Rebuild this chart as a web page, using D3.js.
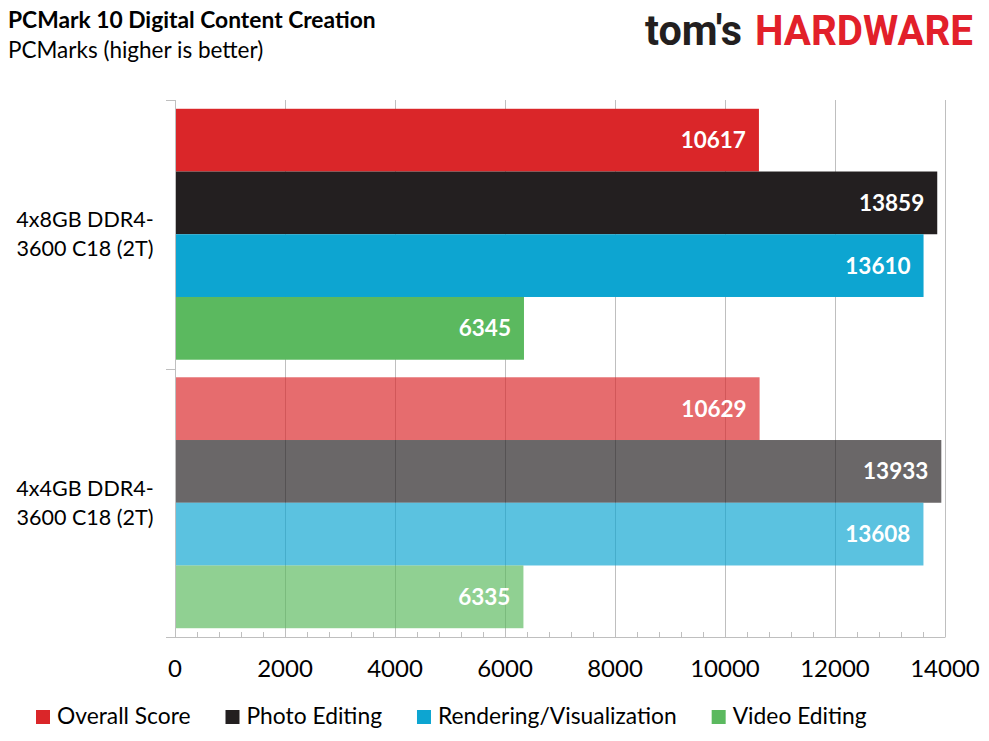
<!DOCTYPE html>
<html>
<head>
<meta charset="utf-8">
<script src="https://cdn.jsdelivr.net/npm/d3@7"></script>
<style>
  body { margin: 0; background: #fff; }
  svg { display: block; }
  text { font-family: Lato, "Open Sans", sans-serif; fill: #000; }
  .title { font-weight: bold; font-size: 22.8px; }
  .subtitle { font-size: 22.5px; }
  .tick-label { font-size: 24px; }
  .cat-label { font-size: 21.5px; }
  .legend-label { font-size: 22.8px; }
  .value-label { font-weight: bold; font-size: 22.5px; fill: #fff; }
  .logo { font-family: Roboto, sans-serif; font-weight: 700; font-size: 42px; }
</style>
</head>
<body>
<div id="chart"></div>
<script>
// chart data
const categories = ["4x8GB DDR4-3600 C18 (2T)", "4x4GB DDR4-3600 C18 (2T)"];
const categoryLines = [["4x8GB DDR4-", "3600 C18 (2T)"], ["4x4GB DDR4-", "3600 C18 (2T)"]];
const series = ["Overall Score", "Photo Editing", "Rendering/Visualization", "Video Editing"];
const values8GB = [10617, 13859, 13610, 6345];
const values4GB = [10629, 13933, 13608, 6335];
const seriesColors = ["#DA2629", "#231F20", "#0DA5D1", "#5BB95F"];
const categoryOpacity = [1, 0.68];
const xTicks = [0, 2000, 4000, 6000, 8000, 10000, 12000, 14000];

const allValues = [values8GB, values4GB];

const width = 989, height = 741;
const margin = {top: 100, right: 44, bottom: 104, left: 175};

const svg = d3.select("#chart").append("svg")
    .attr("width", width)
    .attr("height", height);

// titles
svg.append("text").attr("class", "title")
    .attr("x", 8).attr("y", 28)
    .text("PCMark 10 Digital Content Creation");
svg.append("text").attr("class", "subtitle")
    .attr("x", 8).attr("y", 58)
    .text("PCMarks (higher is better)");

// logo
let logo = svg.append("text").attr("class", "logo").attr("y", 45);
logo.append("tspan").attr("x", 645).attr("fill", "#231F20")
    .attr("textLength", 97).attr("lengthAdjust", "spacingAndGlyphs")
    .text("tom's");
logo.append("tspan").attr("x", 755).attr("fill", "#E2202A")
    .attr("textLength", 218).attr("lengthAdjust", "spacingAndGlyphs")
    .text("HARDWARE");

// scales
let xScale = d3.scaleLinear()
    .domain([0, 14000])
    .range([margin.left, width - margin.right]);

let yGroup = d3.scaleBand()
    .domain(categories)
    .range([margin.top, height - margin.bottom]);

let ySeries = d3.scaleBand()
    .domain(series)
    .range([0, yGroup.bandwidth()])
    .paddingOuter(0.14);

let plotBottom = height - margin.bottom;

// gridlines (behind bars)
svg.append("g")
    .selectAll("line")
    .data(xTicks.slice(1))
    .enter().append("line")
    .attr("x1", d => xScale(d) + 0.5)
    .attr("x2", d => xScale(d) + 0.5)
    .attr("y1", margin.top)
    .attr("y2", plotBottom)
    .attr("stroke", "#BFBFBF")
    .attr("stroke-width", 1);

// bars
categories.forEach(function (cat, ci) {
    let g = svg.append("g")
        .attr("transform", "translate(0," + yGroup(cat) + ")");

    let rows = series.map((s, si) => ({series: s, value: allValues[ci][si], color: seriesColors[si]}));

    g.selectAll("rect")
        .data(rows)
        .enter().append("rect")
        .attr("x", xScale(0))
        .attr("y", d => ySeries(d.series))
        .attr("width", d => xScale(d.value) - xScale(0))
        .attr("height", ySeries.bandwidth())
        .attr("fill", d => d.color)
        .attr("fill-opacity", categoryOpacity[ci]);

    g.selectAll("text.value-label")
        .data(rows)
        .enter().append("text")
        .attr("class", "value-label")
        .attr("x", d => xScale(d.value) - 13)
        .attr("y", d => ySeries(d.series) + ySeries.bandwidth() / 2)
        .attr("dy", "0.36em")
        .attr("text-anchor", "end")
        .text(d => d.value);

    // category label, two lines
    let label = svg.append("text")
        .attr("class", "cat-label")
        .attr("text-anchor", "middle")
        .attr("y", yGroup(cat) + yGroup.bandwidth() / 2 - 7);
    label.selectAll("tspan")
        .data(categoryLines[ci])
        .enter().append("tspan")
        .attr("x", 85)
        .attr("dy", (d, i) => i == 0 ? 0 : 29)
        .text(d => d);
});

// y axis line and ticks
let axisColor = "#BFBFBF";
svg.append("line")
    .attr("x1", xScale(0) + 0.5).attr("x2", xScale(0) + 0.5)
    .attr("y1", margin.top).attr("y2", plotBottom)
    .attr("stroke", axisColor);
svg.append("g")
    .selectAll("line")
    .data(categories.map(c => yGroup(c)))
    .enter().append("line")
    .attr("x1", xScale(0) - 9).attr("x2", xScale(0))
    .attr("y1", d => Math.round(d) + 0.5)
    .attr("y2", d => Math.round(d) + 0.5)
    .attr("stroke", axisColor);

// x axis baseline
svg.append("line")
    .attr("x1", xScale(0) - 9).attr("x2", xScale(14000) + 0.5)
    .attr("y1", plotBottom + 0.5).attr("y2", plotBottom + 0.5)
    .attr("stroke", axisColor);

// minor ticks every 400
svg.append("g")
    .selectAll("line")
    .data(d3.range(0, 14001, 400))
    .enter().append("line")
    .attr("x1", d => xScale(d) + 0.5).attr("x2", d => xScale(d) + 0.5)
    .attr("y1", plotBottom - 5).attr("y2", plotBottom)
    .attr("stroke", axisColor);

// x tick labels
svg.append("g")
    .selectAll("text")
    .data(xTicks)
    .enter().append("text")
    .attr("class", "tick-label")
    .attr("x", d => xScale(d))
    .attr("y", 677)
    .attr("text-anchor", "middle")
    .text(d => d);

// legend
let legend = svg.append("g").attr("transform", "translate(36,710)");
let cursor = 0;
series.forEach(function (s, si) {
    let item = legend.append("g").attr("transform", "translate(" + cursor + ",0)");
    item.append("rect")
        .attr("width", 14).attr("height", 14)
        .attr("fill", seriesColors[si]);
    let t = item.append("text")
        .attr("class", "legend-label")
        .attr("x", 21).attr("y", 14)
        .text(s);
    cursor += 21 + t.node().getComputedTextLength() + 35;
});
</script>
</body>
</html>
